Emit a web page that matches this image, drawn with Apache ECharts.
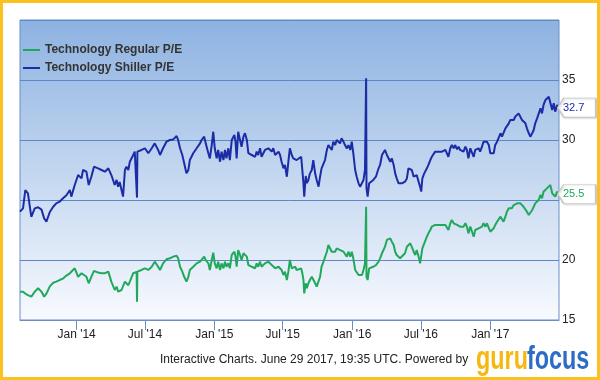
<!DOCTYPE html>
<html><head><meta charset="utf-8">
<script src="https://cdn.jsdelivr.net/npm/echarts@6/dist/echarts.min.js"></script>
<style>html,body{margin:0;padding:0;background:#fff}#c{width:600px;height:380px}</style>
</head><body><div id="c"></div>
<script>
// Days since 2014-01-01 for each reading
const days = [
-150,-142,-136,-129,-120,-111,-102,-93,-86,-80,-71,-62,-54,-45,-36,-27,-18,-14,-5,4,13,17,26,32,39,46,57,66,75,84,
92,101,106,110,114,119,123,128,132,137,141,150,154,159,160,161,172,181,190,199,207,216,221,229,238,247,256,265,269,274,280,285,291,296,300,309,318,327,
331,338,342,349,353,358,362,366,371,375,380,384,389,393,397,402,406,411,418,421,424,428,433,437,442,446,451,455,464,473,477,481,486,490,499,508,517,521,526,535,539,543,548,552,557,561,565,
570,574,579,583,588,595,598,601,603,607,610,614,618,623,627,632,636,641,645,649,654,658,663,667,672,676,680,685,689,694,698,702,707,711,716,720,725,729,733,738,742,747,751,756,760,764,766,767,768,771,775,780,786,793,800,804,
809,813,817,822,826,831,835,840,844,848,853,857,862,870,875,879,884,888,893,897,901,906,910,913,916,921,928,932,937,941,946,950,959,968,977,981,985,990,994,999,1003,1008,1012,1016,1021,1025,1030,1034,1038,1043,
1047,1052,1056,1061,1065,1069,1074,1078,1083,1087,1092,1096,1100,1105,1109,1114,1118,1123,1127,1131,1136,1140,1145,1149,1153,1158,1162,1167,1171,1176,1180,1184,1189,1193,1198,1202,1207,1211,1215,1220,1224,1229,1233,1237,1242,1246,1251,1255,1260,1264,1268,1273,1277
];
const shiller = [
24.03,24.3,25.83,25.56,23.6,24.3,24.4,24.2,23.47,23.2,24.0,24.44,24.72,24.86,25.14,25.4,25.83,25.28,26.25,27.08,26.8,27.5,27.36,26.25,26.94,27.78,27.64,27.5,27.36,27.64,
27.08,26.25,26.67,26.1,26.5,25.83,25.28,27.5,27.78,27.5,28.19,28.75,29.03,29.0,25.2,29.03,29.17,29.31,28.9,29.31,29.72,29.17,28.75,29.31,29.86,30.0,30.05,30.33,30.0,29.31,28.75,28.06,27.22,27.5,28.33,28.9,29.31,29.72,
30.0,30.28,29.72,28.9,28.47,29.58,30.69,29.31,28.47,29.17,28.19,29.03,28.33,29.17,28.47,29.31,28.33,30.0,30.42,29.86,28.47,30.69,30.0,29.44,30.28,30.56,30.0,28.9,28.75,28.6,29.03,28.75,29.31,28.6,29.17,29.31,29.03,29.31,28.75,29.03,28.75,28.19,27.64,27.92,26.94,28.19,29.31,
28.75,28.47,28.6,28.33,28.47,28.6,27.5,26.39,25.28,27.0,26.4,26.67,27.2,27.5,28.33,27.2,26.67,26.11,26.94,27.64,27.78,28.33,29.17,29.58,29.72,29.17,29.86,29.58,30.0,29.86,29.72,30.14,29.86,29.58,29.3,29.58,29.17,29.86,28.9,27.5,26.94,26.39,26.11,26.25,26.67,27.5,27.5,35.14,26.0,25.28,26.39,26.25,26.67,26.94,27.64,27.92,
28.75,28.9,29.17,28.75,28.6,28.19,28.47,27.92,27.22,26.8,26.39,26.25,26.39,26.53,26.8,27.64,27.78,27.5,26.94,26.8,27.08,26.53,26.11,25.7,26.8,27.22,27.64,27.92,28.33,28.6,28.75,29.03,29.03,29.03,29.17,29.03,28.6,29.31,29.58,29.31,29.58,29.22,29.44,29.17,29.31,29.03,29.44,29.17,28.47,29.31,
29.31,28.6,29.17,29.03,29.31,29.03,29.44,29.86,29.72,29.86,29.58,28.9,29.03,28.9,29.58,29.86,30.0,30.56,30.28,30.42,30.97,31.1,31.39,31.67,31.53,31.67,31.94,31.8,32.22,32.08,31.67,31.67,31.39,30.97,30.56,30.28,30.56,30.83,31.39,31.8,31.94,32.64,32.22,32.92,33.33,33.47,33.61,33.75,32.5,33.06,32.36,32.92,32.7
];
const regular = [
17.36,17.36,17.2,17.08,16.94,17.36,17.64,17.36,16.94,17.2,17.8,18.1,18.2,18.33,18.45,18.7,18.89,18.75,19.31,18.6,18.9,18.95,18.6,18.06,18.6,19.1,18.95,18.9,18.9,19.03,
18.2,17.5,17.78,17.36,17.5,17.5,17.36,18.2,18.2,17.9,18.2,18.9,19.03,19.0,16.53,19.03,19.17,19.3,19.17,19.44,19.86,19.44,19.17,19.72,20.06,20.14,20.28,20.36,20.14,19.44,19.03,18.6,18.2,18.6,19.17,19.44,19.72,19.86,
20.0,20.28,20.0,19.72,19.17,20.0,20.61,19.72,19.31,19.86,19.17,19.72,19.31,19.86,19.44,19.72,19.31,20.42,20.69,20.28,19.44,20.83,20.42,20.0,20.56,20.69,20.28,19.58,19.44,19.31,19.72,19.44,19.86,19.44,19.72,19.86,19.58,19.72,19.31,19.44,19.58,19.17,18.75,19.03,18.33,19.03,20.0,
19.3,19.17,19.44,19.17,19.3,19.3,18.9,18.33,17.22,18.06,17.64,18.06,18.33,18.6,18.47,18.06,17.78,17.64,18.6,19.44,19.86,20.0,20.69,21.25,21.1,20.69,20.83,20.69,20.97,21.1,20.83,20.97,20.69,20.56,20.28,20.69,20.28,20.69,20.14,19.17,19.03,18.75,18.6,18.75,19.17,19.72,19.72,24.44,18.6,18.33,19.3,19.17,19.44,19.58,19.86,20.14,
20.56,20.83,21.11,21.67,21.53,21.8,21.53,21.25,20.69,20.42,20.28,20.14,20.28,20.56,21.1,21.25,21.39,21.1,20.69,20.42,20.83,20.28,19.72,19.86,20.97,21.39,21.94,22.22,22.5,22.78,22.78,22.92,22.92,22.92,22.92,23.06,22.5,23.06,23.33,23.06,23.19,22.92,23.06,22.78,22.92,22.78,23.06,22.78,22.22,22.78,
22.64,21.94,22.5,22.36,22.64,22.5,22.78,23.06,22.78,23.06,22.92,22.36,22.22,22.64,22.92,23.19,23.33,23.61,23.47,23.19,23.61,24.03,24.31,24.44,24.31,24.58,24.58,24.72,24.86,24.72,24.58,24.44,24.31,24.03,23.75,23.89,24.17,24.44,24.72,24.86,25.0,25.42,25.14,25.69,25.83,25.97,26.11,26.25,25.56,25.69,25.28,25.69,25.5
];
const seriesNames = ['Technology Regular P/E', 'Technology Shiller P/E'];
const xTickDates = ['2014-01-01','2014-07-01','2015-01-01','2015-07-01','2016-01-01','2016-07-01','2017-01-01'];
const xTickLabels = ["Jan '14","Jul '14","Jan '15","Jul '15","Jan '16","Jul '16","Jan '17"];
const yTicks = [15, 20, 25, 30, 35, 40];
const footerText = 'Interactive Charts. June 29 2017, 19:35 UTC. Powered by';

const DAY = 86400000;
const base = Date.UTC(2014, 0, 1);
const ts = d => base + d * DAY;
const tickTs = xTickDates.map(s => Date.parse(s));
const regData = days.map((d, i) => [ts(d), regular[i]]);
const shiData = days.map((d, i) => [ts(d), shiller[i]]);
const GREEN = '#21a85b', BLUE = '#1b2ca6';
const FONT = '"Liberation Sans", Arial, sans-serif';
const lastI = days.length - 1;
const LEG_ICON = 'path://M0,0 L17,0 L17,2 L0,2 Z';

function callout(color, val) {
  return {
    symbol: 'path://M0,9.5 L6,0 L38,0 L38,19 L6,19 Z',
    symbolSize: [38, 19],
    symbolKeepAspect: false,
    symbolOffset: [18, 0],
    itemStyle: { color: '#fff', borderColor: '#c4c4c4', borderWidth: 1,
      shadowColor: 'rgba(0,0,0,0.18)', shadowBlur: 2, shadowOffsetX: 1, shadowOffsetY: 1 },
    label: { show: true, position: 'inside', offset: [-3, 0], color: color,
      fontSize: 11, fontFamily: FONT, formatter: () => val.toFixed(1) },
    data: [{ coord: [ts(days[lastI]), val], value: val }],
    animation: false
  };
}

const chart = echarts.init(document.getElementById('c'), null, { renderer: 'canvas' });
chart.setOption({
  animation: false,
  backgroundColor: '#fff',
  grid: {
    left: 20, top: 20, right: 41, bottom: 60, show: true,
    borderColor: '#6a8fc7', borderWidth: 1,
    backgroundColor: new echarts.graphic.LinearGradient(0, 0, 0, 1, [
      { offset: 0, color: '#8db2e1' }, { offset: 1, color: '#f8fafe' }
    ])
  },
  legend: {
    orient: 'vertical', left: 23, top: 44, padding: 0,
    itemWidth: 17, itemHeight: 12, itemGap: 6,
    symbolKeepAspect: true,
    textStyle: { fontFamily: FONT, fontSize: 12, fontWeight: 'bold', color: '#333' },
    data: [
      { name: seriesNames[0], icon: LEG_ICON, itemStyle: { color: GREEN } },
      { name: seriesNames[1], icon: LEG_ICON, itemStyle: { color: BLUE } }
    ]
  },
  xAxis: {
    type: 'value', min: ts(days[0]), max: ts(1278),
    axisLine: { show: true, lineStyle: { color: '#6a8fc7' } },
    axisTick: { show: true, length: 10, customValues: tickTs, lineStyle: { color: '#6a8fc7' } },
    axisLabel: { customValues: tickTs, margin: 9, fontSize: 12, fontFamily: FONT, color: '#222',
      formatter: v => { const i = tickTs.indexOf(v); return i >= 0 ? xTickLabels[i] : ''; } },
    splitLine: { show: false }
  },
  yAxis: {
    type: 'value', position: 'right', min: yTicks[0], max: yTicks[yTicks.length - 1], interval: 5,
    axisLine: { show: false }, axisTick: { show: false },
    axisLabel: { margin: 3, fontSize: 12, fontFamily: FONT, color: '#222', showMaxLabel: false },
    splitLine: { show: true, lineStyle: { color: '#5d88c8', width: 1 } }
  },
  series: [
    { name: seriesNames[0], type: 'line', data: regData, symbol: 'none', showSymbol: false,
      lineStyle: { color: GREEN, width: 2 }, itemStyle: { color: GREEN }, z: 3,
      markPoint: callout(GREEN, regular[lastI]) },
    { name: seriesNames[1], type: 'line', data: shiData, symbol: 'none', showSymbol: false,
      lineStyle: { color: BLUE, width: 2 }, itemStyle: { color: BLUE }, z: 4,
      markPoint: callout(BLUE, shiller[lastI]) }
  ],
  graphic: [
    { type: 'text', left: 160, top: 354, style: { text: footerText, font: '12px ' + FONT, fill: '#222' } },
    { type: 'text', x: 476, y: 343, scaleX: 0.73, scaleY: 1.05, style: { text: 'guru', font: 'bold 32px ' + FONT, fill: '#f6b80f' } },
    { type: 'text', x: 527, y: 343, scaleX: 0.73, scaleY: 1.05, style: { text: 'focus', font: 'bold 32px ' + FONT, fill: '#2d6cc4' } },
    { type: 'rect', shape: { x: 1.5, y: 1.5, width: 597, height: 377 }, style: { fill: 'none', stroke: '#fbc21f', lineWidth: 3 }, z: 100 }
  ]
});
</script></body></html>
